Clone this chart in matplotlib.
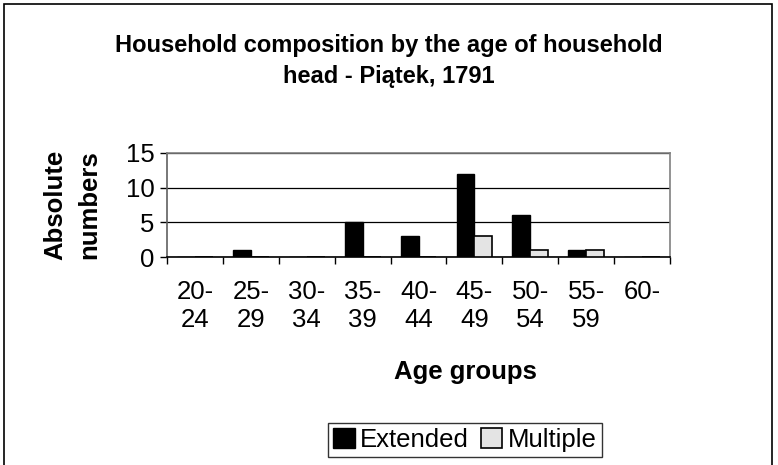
import numpy as np
import matplotlib.pyplot as plt
from matplotlib.patches import Rectangle

plt.rcParams['font.family'] = ['Liberation Sans', 'DejaVu Sans']

age_groups = ['20-\n24', '25-\n29', '30-\n34', '35-\n39', '40-\n44',
              '45-\n49', '50-\n54', '55-\n59', '60-']
extended = [0, 1, 0, 5, 3, 12, 6, 1, 0]
multiple = [0, 0, 0, 0, 0, 3, 1, 1, 0]

fs = 18.5

fig = plt.figure(figsize=(7.78, 4.65), dpi=100)
ax = fig.add_axes([0.2147, 0.4473, 0.8612 - 0.2147, 0.671 - 0.4473])

x = np.arange(len(age_groups))
w = 0.32
ax.bar(x - w / 2, extended, w, color='black', edgecolor='black', linewidth=1, label='Extended', zorder=3)
ax.bar(x + w / 2, multiple, w, color='#e4e4e4', edgecolor='black', linewidth=1.2, label='Multiple', zorder=3)

ax.set_xlim(-0.5, len(age_groups) - 0.5)
ax.set_ylim(0, 15)
ax.set_yticks([0, 5, 10, 15])
ax.yaxis.grid(True, color='black', linewidth=0.9, zorder=0)

ax.set_xticks(x)
ax.set_xticklabels(age_groups, fontsize=fs, linespacing=1.19)
ax.set_xticks(np.arange(len(age_groups) + 1) - 0.5, minor=True)
ax.tick_params(axis='x', which='major', length=0, pad=16.5)
ax.tick_params(axis='x', which='minor', length=5, width=1, direction='out')
ax.tick_params(axis='y', length=5, width=1, direction='out', labelsize=fs, pad=4)

for s in ['top', 'right']:
    ax.spines[s].set_color('#808080')
    ax.spines[s].set_linewidth(1.2)
ax.spines['left'].set_color('#606060')
ax.spines['left'].set_linewidth(1.2)
ax.spines['bottom'].set_color('black')
ax.spines['bottom'].set_linewidth(1.2)

ax.set_ylabel('Absolute\nnumbers', fontsize=fs, fontweight='bold', linespacing=1.5, va='center')
ax.yaxis.set_label_coords((72 - 167) / 503, 0.5)
ax.set_xlabel('Age groups', fontsize=fs, fontweight='bold', va='center')
ax.xaxis.set_label_coords((465 - 167) / 503, (257 - 372) / 104)

fig.text(0.5, 1 - 61 / 465, 'Household composition by the age of household\nhead - Piątek, 1791',
         ha='center', va='center', fontsize=17, fontweight='bold', linespacing=1.4)

leg = ax.legend(loc='center', bbox_to_anchor=(465 / 778, 1 - 440 / 465),
                bbox_transform=fig.transFigure, ncol=2, fontsize=fs, frameon=True,
                fancybox=False, handlelength=0.82, handleheight=0.82, handletextpad=0.2,
                columnspacing=0.5, borderpad=0.2, borderaxespad=0)
leg.get_frame().set_edgecolor('black')
leg.get_frame().set_linewidth(1)

fig.patches.append(Rectangle((4 / 778, -0.02), 768 / 778, 1 - 4 / 465 + 0.02,
                             transform=fig.transFigure, fill=False,
                             edgecolor='black', linewidth=1.2))

fig.savefig('out.png', dpi=100)
